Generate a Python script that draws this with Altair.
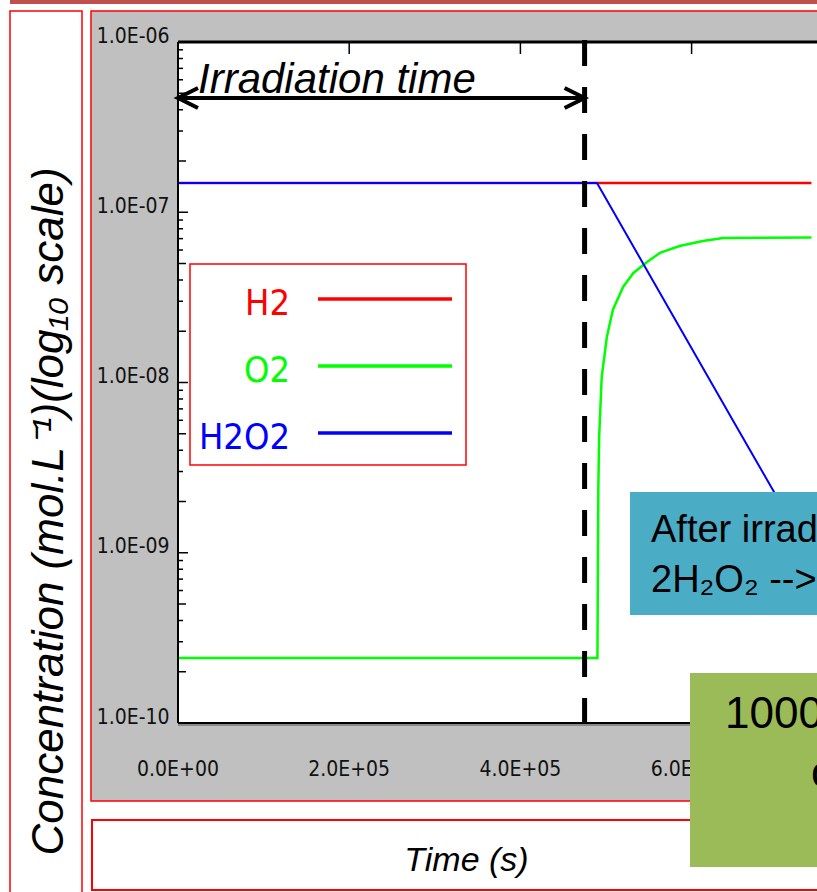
import altair as alt
import pandas as pd

# ---------------- data ----------------
H2_T = [0, 740000]
H2_C = [1.485e-7, 1.485e-7]

O2_T = [0, 490000, 491000, 492000, 495000, 501000, 508000, 520000, 532000,
        548000, 563000, 586000, 613000, 637000, 740000]
O2_C = [2.41e-10, 2.41e-10, 2.34e-9, 4.79e-9, 1.08e-8, 1.85e-8, 2.67e-8, 3.64e-8,
        4.40e-8, 5.10e-8, 5.77e-8, 6.33e-8, 6.78e-8, 7.06e-8, 7.10e-8]

H2O2_T = [0, 489500, 550000, 600000, 650000, 700000, 740000]
H2O2_C = [1.485e-7, 1.485e-7, 4.37e-8, 1.59e-8, 5.79e-9, 2.11e-9, 9.4e-10]

SERIES = ["H2", "O2", "H2O2"]
COLORS = ["#ff0000", "#00ff00", "#0000ff"]

IRRADIATION_END = 475000

X_DOMAIN = [0, 746500]
Y_DOMAIN = [1e-10, 1e-6]
X_TICKS = [0, 200000, 400000, 600000]
X_TICK_LABELS = ["0.0E+00", "2.0E+05", "4.0E+05", "6.0E+05"]
X_TOP_TICKS = [200000, 400000, 600000]
Y_TICKS = [1e-10, 1e-9, 1e-8, 1e-7, 1e-6]
Y_MID_TICKS = [2e-10, 5e-10, 2e-9, 5e-9, 2e-8, 5e-8, 2e-7, 5e-7]
Y_MINOR_TICKS = [3e-10, 4e-10, 6e-10, 7e-10, 8e-10, 9e-10,
                 3e-9, 4e-9, 6e-9, 7e-9, 8e-9, 9e-9,
                 3e-8, 4e-8, 6e-8, 7e-8, 8e-8, 9e-8,
                 3e-7, 4e-7, 6e-7, 7e-7, 8e-7, 9e-7]

Y_TITLE = "Concentration (mol.L\u207b\u00b9)(log\u2081\u2080 scale)"
X_TITLE = "Time (s)"
ANNOT = "Irradiation time"
BLUE_BOX_LINES = ["After irradiation:", "2H\u2082O\u2082 --> 2H\u2082O + O\u2082"]
GREEN_BOX_LINES = ["1000 days", "of storage"]

# ---------------- styling ----------------
FONT = "Liberation Sans"
NARROW = "DejaVu Sans Condensed, Liberation Sans Narrow, sans-serif"
W, H = 639, 681
RIGHT = 660  # beyond the visible edge (the reference is cropped)

XS = alt.Scale(domain=X_DOMAIN, nice=False, zero=False)
YS = alt.Scale(type="log", domain=Y_DOMAIN, nice=False)

ONE = pd.DataFrame({"k": [0]})


def rect(x1, y1, x2, y2, fill, stroke=None, sw=0):
    kw = dict(fill=fill)
    if stroke:
        kw.update(stroke=stroke, strokeWidth=sw)
    return alt.Chart(ONE).mark_rect(**kw).encode(
        x=alt.value(x1), x2=alt.value(x2), y=alt.value(y1), y2=alt.value(y2))


def hline(x1, x2, y, color, sw):
    return alt.Chart(ONE).mark_rule(color=color, strokeWidth=sw).encode(
        x=alt.value(x1), x2=alt.value(x2), y=alt.value(y))


def vline(x, y1, y2, color, sw):
    return alt.Chart(ONE).mark_rule(color=color, strokeWidth=sw).encode(
        x=alt.value(x), y=alt.value(y1), y2=alt.value(y2))


def label(txt, x, y, size, font=FONT, color="black", align="left", style="normal"):
    return alt.Chart(ONE).mark_text(text=txt, align=align, baseline="alphabetic",
                                    font=font, fontSize=size, fontStyle=style,
                                    color=color).encode(x=alt.value(x), y=alt.value(y))


layers = []
# slide decoration
layers.append(rect(-168, -42, RIGHT, -38, "#c0504d"))
layers.append(rect(-168, -31, -96, 880, "white", "#ff0000", 1.5))
layers.append(rect(-87, -31, RIGHT, 759, "#c0c0c0", "#ff0000", 1.5))
layers.append(rect(-86, 778, RIGHT, 848, "white", "#ff0000", 2))
# white plotting area
layers.append(rect(0, 0, RIGHT, H, "white"))
layers.append(hline(0, RIGHT, H + 2, "#888888", 2))

# inward y ticks
for vals, ln in ((Y_TICKS, 10), (Y_MID_TICKS, 8), (Y_MINOR_TICKS, 5)):
    layers.append(alt.Chart(pd.DataFrame({"v": vals})).mark_rule(color="black", strokeWidth=1.5)
                  .encode(y=alt.Y("v:Q", scale=YS, axis=None), x=alt.value(0), x2=alt.value(ln)))
# inward top ticks
layers.append(alt.Chart(pd.DataFrame({"v": X_TOP_TICKS})).mark_rule(color="black", strokeWidth=1.5)
              .encode(x=alt.X("v:Q", scale=XS, axis=None), y=alt.value(0), y2=alt.value(12)))

# x tick labels (drawn under the green box)
layers.append(alt.Chart(pd.DataFrame({"v": X_TICKS, "lab": X_TICK_LABELS}))
              .mark_text(font=NARROW, fontSize=21, color="#111111", baseline="middle", align="center")
              .encode(x=alt.X("v:Q", scale=XS, axis=None), y=alt.value(728), text="lab:N"))

# data lines
h2 = pd.DataFrame({"t": H2_T, "c": H2_C})
o2 = pd.DataFrame({"t": O2_T, "c": O2_C})
h2o2 = pd.DataFrame({"t": H2O2_T, "c": H2O2_C})

y_axis = alt.Axis(orient="left", values=Y_TICKS, ticks=False, tickSize=0, domain=False, grid=False,
                  labelExpr="'1.0E-' + (round(-log(datum.value)/LN10) < 10 ? '0' : '') + round(-log(datum.value)/LN10)",
                  labelFont=NARROW, labelFontSize=21, labelColor="#111111", labelPadding=9,
                  labelOffset=-6, labelOverlap=False,
                  title=Y_TITLE, titleFont=FONT, titleFontSize=44, titleFontStyle="italic",
                  titleFontWeight="normal", titleColor="black", titleAngle=270, titleX=-116,
                  titleY=469, titleAlign="center", titleBaseline="alphabetic", zindex=1)
x_axis = alt.Axis(orient="bottom", labels=False, ticks=False, domain=False, grid=False,
                  title=X_TITLE, titleFont=FONT, titleFontSize=34, titleFontStyle="italic",
                  titleFontWeight="normal", titleColor="black", titleX=288, titleY=147,
                  titleAlign="center", titleBaseline="alphabetic", zindex=1)

layers.append(alt.Chart(h2).mark_line(color=COLORS[0], strokeWidth=2.5)
              .encode(x=alt.X("t:Q", scale=XS, axis=x_axis), y=alt.Y("c:Q", scale=YS, axis=y_axis)))
layers.append(alt.Chart(o2).mark_line(color=COLORS[1], strokeWidth=2.5)
              .encode(x=alt.X("t:Q", scale=XS, axis=None), y=alt.Y("c:Q", scale=YS, axis=None)))
layers.append(alt.Chart(h2o2).mark_line(color=COLORS[2], strokeWidth=2)
              .encode(x=alt.X("t:Q", scale=XS, axis=None), y=alt.Y("c:Q", scale=YS, axis=None)))

# plot frame
layers.append(hline(0, RIGHT, 0, "black", 3))
layers.append(vline(0, 0, H, "black", 2))
layers.append(hline(0, RIGHT, H, "black", 2))

# irradiation end (dashed) and double arrow
irr = pd.DataFrame({"t": [IRRADIATION_END]})
layers.append(alt.Chart(irr).mark_rule(color="black", strokeWidth=5, strokeDash=[26, 21])
              .encode(x=alt.X("t:Q", scale=XS, axis=None), y=alt.value(-2), y2=alt.value(H)))
arrow = pd.DataFrame({"a": [0], "b": [IRRADIATION_END]})
layers.append(alt.Chart(arrow).mark_rule(color="black", strokeWidth=4)
              .encode(x=alt.X("a:Q", scale=XS, axis=None), x2="b:Q", y=alt.value(56)))
layers.append(alt.Chart(arrow).mark_point(shape="M2,-1L0,0L2,1", filled=False, size=400,
                                          strokeWidth=4, color="black", opacity=1)
              .encode(x=alt.X("a:Q", scale=XS, axis=None), y=alt.value(56)))
layers.append(alt.Chart(arrow).mark_point(shape="M-2,-1L0,0L-2,1", filled=False, size=400,
                                          strokeWidth=4, color="black", opacity=1)
              .encode(x=alt.X("b:Q", scale=XS, axis=None), y=alt.value(56)))
layers.append(label(ANNOT, 20, 51, 42, style="italic"))

# legend
layers.append(rect(12, 222, 288, 423, "white", "#ff0000", 1.5))
for i, (name, col) in enumerate(zip(SERIES, COLORS)):
    yl = 257 + 67 * i
    layers.append(hline(140, 274, yl, col, 3.5))
    layers.append(label(name, 112, yl + 16, 36, font=NARROW, color=col, align="right"))

# blue box
layers.append(rect(452, 450, RIGHT, 573, "#4bacc6"))
layers.append(label(BLUE_BOX_LINES[0], 473, 500, 38))
layers.append(label(BLUE_BOX_LINES[1], 473, 550, 38))
# green box
layers.append(rect(512, 631, RIGHT, 825, "#9bbb59"))
layers.append(label(GREEN_BOX_LINES[0], 547, 686, 44))
layers.append(label(GREEN_BOX_LINES[1], 633, 745, 44))

chart = alt.layer(*layers).resolve_axis(x="independent", y="independent").properties(
    width=W, height=H,
    padding={"left": 178, "top": 42, "right": 0, "bottom": 169},
    autosize=alt.AutoSizeParams(type="none"),
    background="white",
).configure_view(stroke=None)

chart.save("out.html", embed_options={"renderer": "svg", "actions": False})
